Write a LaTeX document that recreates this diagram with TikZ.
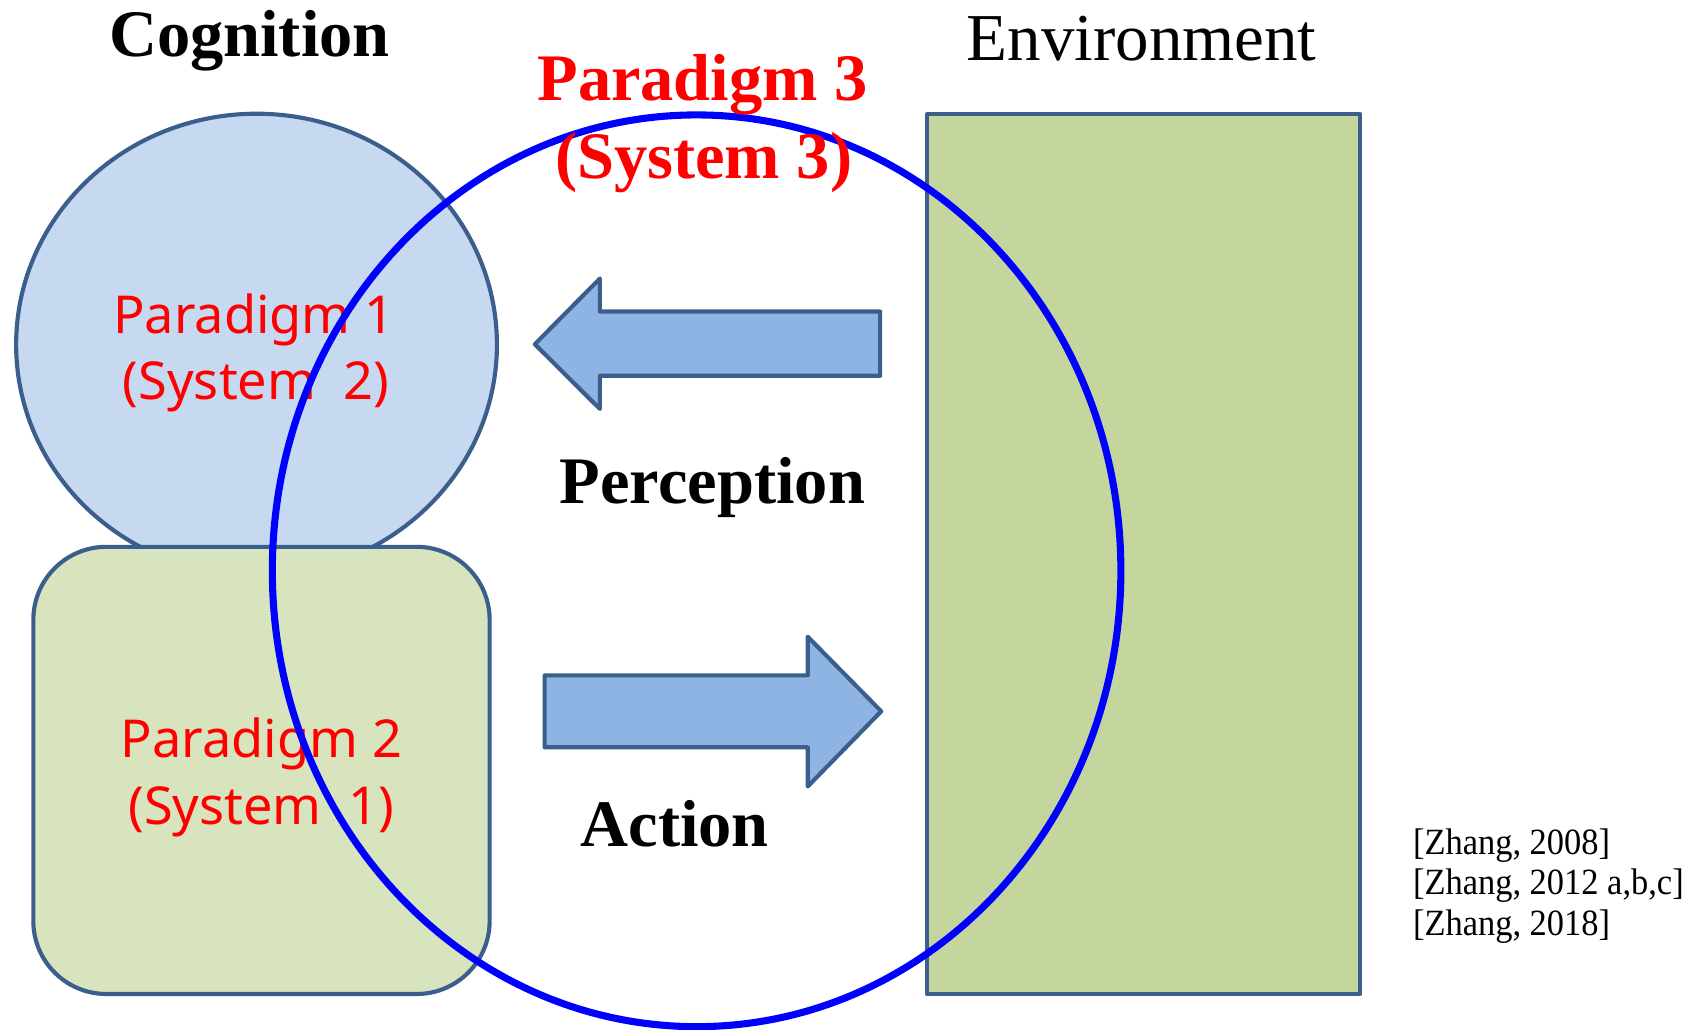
\documentclass[tikz,border=0pt]{standalone}
\usepackage{fontspec}
\usepackage{graphicx}
\setmainfont{Liberation Serif}
\newfontfamily\labelsans{Noto Sans}
\definecolor{edgeblue}{HTML}{3B5F8C}
\definecolor{cogfill}{HTML}{C6D9F0}
\definecolor{intfill}{HTML}{D8E4BE}
\definecolor{envfill}{HTML}{C4D69D}
\definecolor{arrowfill}{HTML}{8EB4E3}
\definecolor{ringblue}{HTML}{0000FF}
\definecolor{parred}{HTML}{FF0000}
\newcommand{\narrowref}[1]{\scalebox{0.93}[1]{#1}}
\tikzset{
  shapeline/.style={draw=edgeblue, line width=3.8pt, line join=round},
  bigbold/.style={font=\fontsize{61}{73}\selectfont\bfseries, inner sep=0pt, anchor=base},
  bigplain/.style={font=\fontsize{61.5}{72}\selectfont, inner sep=0pt, anchor=base},
  redbold/.style={bigbold, text=parred},
  redsans/.style={font=\labelsans\fontsize{48}{60}\selectfont, text=parred, inner sep=0pt, anchor=base},
  refline/.style={font=\fontsize{34}{34}\selectfont, inner sep=0pt, anchor=base west},
  ringline/.style={draw=ringblue, line width=6.5pt},
}
\begin{document}
\begin{tikzpicture}[x=1pt, y=-1pt]
\useasboundingbox (0,0) rectangle (1568,945);
\fill[white] (0,0) rectangle (1568,945);

% cognition: upper ellipse and lower rounded box
\path[shapeline, fill=cogfill] (235.5,316.4) ellipse [x radius=220.7, y radius=212];
\path[shapeline, fill=intfill, rounded corners=67pt] (30.6,502) rectangle (449.5,912.5);

% environment block
\path[shapeline, fill=envfill] (851,104.8) rectangle (1248.6,912.6);

% perception arrow (pointing left)
\path[shapeline, fill=arrowfill]
  (491,316) -- (550.7,255.7) -- (550.7,286) -- (808,286) -- (808,345)
  -- (550.7,345) -- (550.7,375.4) -- cycle;

% action arrow (pointing right)
\path[shapeline, fill=arrowfill]
  (809,653) -- (741.5,722) -- (741.5,686) -- (500,686) -- (500,620)
  -- (741.5,620) -- (741.5,584.5) -- cycle;

% headings and labels
\node[bigbold] (cog) at (229,52) {Cognition};
\node[bigplain] (env) at (1048,55.5) {Environment};
\node[bigbold] (perc) at (654,462) {Perception};
\node[bigbold] (act) at (619.5,777) {Action};

\node[redsans] (p1a) at (233,306.6) {Paradigm 1};
\node[redsans] (p1b) at (235,367.2) {(System\ \ 2)};
\node[redsans] (p2a) at (240,695.3) {Paradigm 2};
\node[redsans] (p2b) at (240,756.5) {(System\ \ 1)};

% interaction ring
\draw[ringline] (639.5,524) ellipse [x radius=389.5, y radius=418.5];

\node[redbold] (p3a) at (645,92) {Paradigm 3};
\node[redbold] (p3b) at (646,164) {(System 3)};

% references
\node[refline] (r1) at (1297,784) {\narrowref{[Zhang, 2008]}};
\node[refline] (r2) at (1297,821.5) {\narrowref{[Zhang, 2012 a,b,c]}};
\node[refline] (r3) at (1297,859) {\narrowref{[Zhang, 2018]}};
\end{tikzpicture}
\end{document}
